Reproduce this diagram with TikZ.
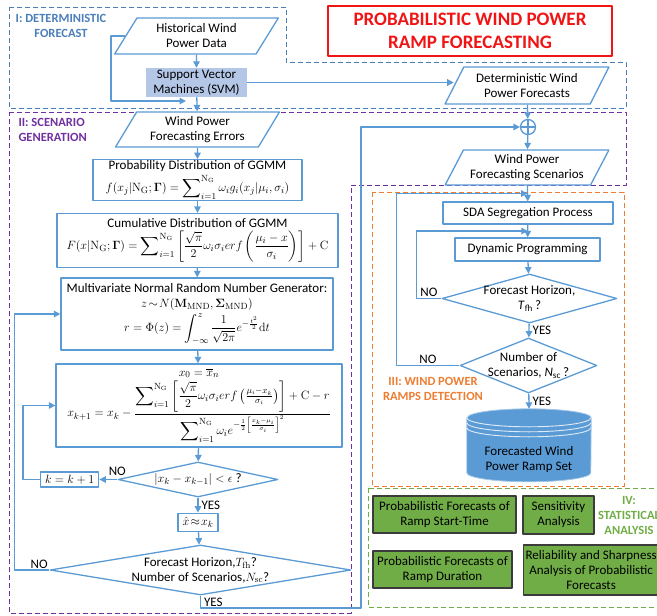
\documentclass[tikz,border=0pt]{standalone}
\usepackage{amsmath,amssymb}
\usepackage[no-math]{fontspec}
\setmainfont{Carlito}
\usetikzlibrary{arrows.meta,positioning,calc,shapes.geometric,backgrounds}
\definecolor{cielo}{HTML}{5B9BD5}
\definecolor{acero}{HTML}{4A7EBB}
\definecolor{morado}{HTML}{7030A0}
\definecolor{naranja}{HTML}{ED7D31}
\definecolor{verde}{HTML}{70AD47}
\definecolor{celeste}{HTML}{B4C7E7}
\definecolor{rojo}{HTML}{F01414}
\definecolor{borde}{HTML}{3C3C3C}
\newcommand{\nGG}{\mathrm{N_G}}

\begin{document}
\begin{tikzpicture}[x=1pt,y=-1pt,line join=round,
          >={Triangle[width=6.5pt,length=6.5pt]},
          every node/.style={font=\fontsize{13}{15}\selectfont},
          blk/.style={draw=cielo,line width=1.3pt,fill=white,align=center,inner sep=1pt},
          io/.style={trapezium,trapezium left angle=58,trapezium right angle=122,
                     trapezium stretches,draw=cielo,line width=1.3pt,fill=white,
                     align=center,minimum width=164pt,minimum height=36pt,inner sep=0pt},
          dec/.style={diamond,draw=cielo,line width=1.3pt,fill=white,align=center,
                      inner xsep=-12pt,inner ysep=-2pt},
          stat/.style={draw=borde,line width=1.2pt,fill=verde,align=center,inner sep=2pt},
          arr/.style={->,cielo,line width=1.3pt},
          yn/.style={inner sep=1pt,text=black},
          zone/.style={line width=1pt,dash pattern=on 5pt off 3pt},
          zonelab/.style={font=\bfseries\fontsize{12.5}{15}\selectfont,align=center}]
        \useasboundingbox (0,0) rectangle (657,616);
        % stage frames
        \draw[zone,acero] (9,7) -- (286,7) -- (286,62) -- (626,62) -- (626,108) -- (9,108) -- cycle;
        \draw[zone,morado] (9,112) -- (626,112) -- (626,185) -- (351,185) -- (351,613) -- (9,613) -- cycle;
        \draw[zone,naranja] (372,192) rectangle (624,486);
        \draw[zone,verde] (368,488) rectangle (668,607);
        \node[zonelab,text=acero] (labI) at (61,26) {I: DETERMINISTIC\\FORECAST};
        \node[zonelab,text=morado,align=left,anchor=west] (labII) at (15,129.5) {II: SCENARIO\\GENERATION};
        \node[zonelab,text=naranja] (labIII) at (433,389) {III: WIND POWER\\RAMPS DETECTION};
        \node[zonelab,text=verde] (labIV) at (629,515.5) {IV:\\STATISTICAL\\ANALYSIS};
        \node[draw=rojo,line width=1.5pt,text=rojo,font=\bfseries\fontsize{19}{23}\selectfont,
              align=center,minimum width=284pt,minimum height=50pt,inner sep=0pt] (title)
              at (470,31) {PROBABILISTIC WIND POWER\\RAMP FORECASTING};

        % I: deterministic forecast
        \node[io] (hist) at (196.5,36) {Historical Wind\\Power Data};
        \node[fill=celeste,minimum width=101pt,minimum height=29pt,inner sep=0pt,align=center]
              (svm) at (196.5,82.5) {Support Vector\\Machines (SVM)};
        \node[io,minimum height=37pt] (det) at (527,85.5) {Deterministic Wind\\Power Forecasts};

        % II: scenario generation
        \node[io,minimum height=35pt] (err) at (197.5,129.5) {Wind Power\\Forecasting Errors};
        \node[blk,minimum width=209pt,minimum height=36pt] (pdf) at (197.5,180)
              {Probability Distribution of GGMM\\[2pt]
               $\displaystyle f(x_j|\nGG;\mathbf{\Gamma})=\sum\nolimits_{i=1}^{\nGG}\omega_i g_i(x_j|\mu_i,\sigma_i)$};
        \node[blk,minimum width=281pt,minimum height=54pt] (cdf) at (197.5,240.5)
              {Cumulative Distribution of GGMM\\[2pt]
               $\displaystyle F(x|\nGG;\mathbf{\Gamma})=\sum\nolimits_{i=1}^{\nGG}\left[\frac{\sqrt{\pi}}{2}\omega_i\sigma_i erf\left(\frac{\mu_i-x}{\sigma_i}\right)\right]+\mathrm{C}$};
        \node[blk,minimum width=272pt,minimum height=72pt] (mvn) at (197,314)
              {Multivariate Normal Random Number Generator:\\
               $z\!\sim\!N(\mathbf{M}_{\mathrm{MND}},\mathbf{\Sigma}_{\mathrm{MND}})$\\[2pt]
               $\displaystyle r=\Phi(z)=\int_{-\infty}^{z}\frac{1}{\sqrt{2\pi}}e^{-\frac{t^2}{2}}\mathrm{d}t$};
        \node[blk,minimum width=286pt,minimum height=83pt] (nwt) at (199,405.5)
              {$x_0=\overline{x}_n$\\[2pt]
               $\displaystyle x_{k+1}=x_k-\frac{\displaystyle\sum\nolimits_{i=1}^{\nGG}\left[\frac{\sqrt{\pi}}{2}\omega_i\sigma_i erf\left(\tfrac{\mu_i-x_k}{\sigma_i}\right)\right]+\mathrm{C}-r}
                 {\displaystyle\sum\nolimits_{i=1}^{\nGG}\omega_i e^{-\frac{1}{2}\left[\frac{x_k-\mu_i}{\sigma_i}\right]^2}}$};
        \node[dec,minimum width=160pt,minimum height=35pt,aspect=4.57] (cvg) at (198,479.5)
              {$|x_k-x_{k-1}|<\epsilon$ ?};
        \node[blk,minimum width=58pt,minimum height=15pt,left=18pt of cvg] (kinc) {$k=k+1$};
        \node[blk,minimum width=40pt,minimum height=18pt,below=15pt of cvg] (xhat) {$\hat{x}\!\approx\!x_k$};
        \node[dec,minimum width=301pt,minimum height=50pt,aspect=6.02] (stop) at (200.5,570)
              {Forecast Horizon,$T_{\mathrm{fh}}$?\\Number of Scenarios,$N_{\mathrm{sc}}$?};
        \node[circle,draw=cielo,fill=white,line width=1.3pt,minimum size=15pt,inner sep=0pt]
              (plus) at (528,127) {};
        \draw[cielo,line width=1.2pt] (plus.north) -- (plus.south) (plus.west) -- (plus.east);
        \node[io,minimum height=35pt] (scen) at (527,167.5) {Wind Power\\Forecasting Scenarios};

        % III: ramp detection
        \node[blk,minimum width=170pt,minimum height=22pt] (sda) at (528,213) {SDA Segregation Process};
        \node[blk,minimum width=145pt,minimum height=23pt] (dp) at (527.5,249.5) {Dynamic Programming};
        \node[dec,minimum width=175pt,minimum height=49pt,aspect=3.57] (hor) at (529.5,298.5)
              {Forecast Horizon,\\\textit{T}\textsubscript{fh}\,?};
        \node[dec,minimum width=137pt,minimum height=55pt,aspect=2.49] (nsc) at (528.5,365.5)
              {Number of\\Scenarios, \textit{N}\textsubscript{sc}\,?};
        \node[minimum width=124pt,minimum height=102pt,align=center,inner sep=0pt] (ramp) at (529,460)
              {Forecasted Wind\\Power Ramp Set};
        \begin{pgfonlayer}{background}
          \filldraw[fill=cielo,draw=cielo!55,line width=0.8pt]
                ([yshift=-9pt]ramp.north west) -- ([yshift=-64pt]ramp.north west)
                arc (180:360:62pt and 9pt) -- ([yshift=-9pt]ramp.north east)
                arc (0:180:62pt and 9pt) -- cycle;
          \draw[white!80!cielo,line width=0.9pt] ([yshift=-9pt]ramp.north west) arc (180:360:62pt and 9pt);
          \draw[white!80!cielo,line width=0.9pt] ([yshift=-14pt]ramp.north west) arc (180:360:62pt and 9pt);
          \draw[white!80!cielo,line width=0.9pt] ([yshift=-19pt]ramp.north west) arc (180:360:62pt and 9pt);
        \end{pgfonlayer}

        % IV: statistical analysis
        \node[stat,minimum width=143pt,minimum height=37pt] (start) at (444.5,514.5)
              {Probabilistic Forecasts of\\Ramp Start-Time};
        \node[stat,minimum width=71pt,minimum height=38pt] (sens) at (558.5,515) {Sensitivity\\Analysis};
        \node[stat,minimum width=139pt,minimum height=37pt] (dur) at (442.5,569.5)
              {Probabilistic Forecasts of\\Ramp Duration};
        \node[stat,minimum height=50pt,anchor=west] (rel) at (523,570)
              {Reliability and Sharpness\\Analysis of Probabilistic\\Forecasts};

        % connectors
        \coordinate (errin) at (186,101);
        \coordinate (upcol) at (361,608);
        \draw[arr] (hist) -- (svm);
        \draw[arr] (svm) -- (err);
        \draw[arr] (hist.west) -- ++(-14,0) |- (errin);
        \draw[arr] (svm.east) -- (svm.east -| det.west);
        \draw[arr] (det) -- (plus);
        \draw[arr] (plus) -- (scen);
        \draw[arr] (err) -- (pdf);
        \draw[arr] (pdf) -- (cdf);
        \draw[arr] (cdf) -- (mvn);
        \draw[arr] (mvn) -- (nwt);
        \draw[arr] (nwt) -- (cvg);
        \draw[arr] (cvg) -- node[yn,pos=0,above=2pt]{NO} (kinc);
        \draw[arr] (kinc.west) -- ++(-17,0) |- (nwt.west);
        \draw[arr] (cvg) -- node[yn,midway,right=2pt]{YES} (xhat);
        \draw[arr] (xhat) -- (stop);
        \draw[arr] (stop.west) -- node[yn,pos=0,above left=0pt]{NO} ++(-35,0) |- (mvn.west);
        \draw[arr] (stop.south) |- node[yn,pos=0.25,right=2pt]{YES} (upcol) |- (plus.west);
        \draw[arr] (scen) -- (sda);
        \draw[arr] (sda) -- (dp);
        \draw[arr] (dp) -- (hor);
        \draw[arr] (hor) -- node[yn,midway,right=2pt]{YES} (nsc);
        \draw[arr] (nsc) -- node[yn,midway,right=2pt]{YES} (ramp.north);
        \draw[arr] (hor.west) -- node[yn,midway,above]{NO} ++(-25,0) |- ($(sda.south)!0.5!(dp.north)$);
        \draw[arr] (nsc.west) -- node[yn,midway,above]{NO} ++(-63,0) |- ($(scen.south)!0.5!(sda.north)$);
      \end{tikzpicture}
\end{document}
